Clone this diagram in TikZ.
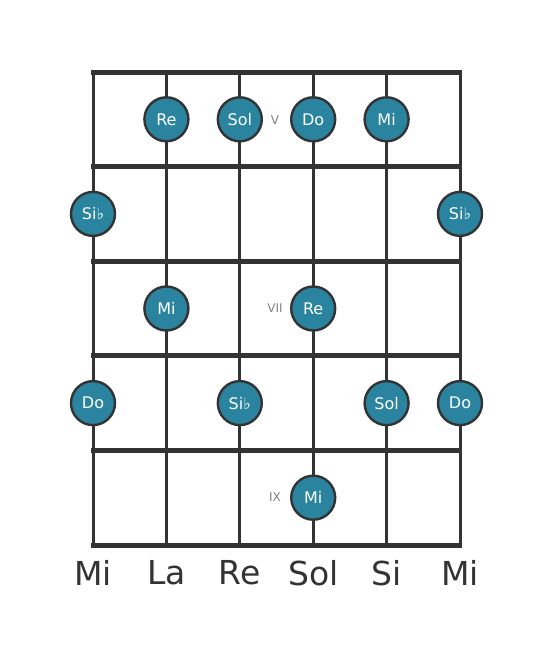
\documentclass[tikz,border=0pt]{standalone}
\usepackage{fontspec}
\setmainfont{DejaVu Sans}
\usetikzlibrary{calc}
\definecolor{cuerda}{HTML}{333333}
\definecolor{nota}{HTML}{2A84A0}
\newcommand{\bemol}{\char"266D}

\begin{document}
\begin{tikzpicture}[x=1pt, y=-1pt,
  nota/.style={circle, draw=cuerda, line width=2.4pt, fill=nota, minimum size=44pt,
    inner sep=0pt, text=white, font=\fontsize{16}{16}\selectfont},
  traste/.style={text=gray, font=\fontsize{12}{12}\selectfont}]
  \useasboundingbox (0,0) rectangle (553,656);

  % Cuerdas
  \foreach \i in {0,...,5}
    \draw[cuerda, line width=3pt] ({93+73.4*\i},72) -- ({93+73.4*\i},545);

  % Trastes
  \foreach \j in {0,...,5}
    \draw[cuerda, line width=5pt] (91,{72+94.6*\j}) -- (462,{72+94.6*\j});

  % Nombres de las cuerdas
  \foreach \n [count=\i from 0] in {Mi,La,Re,Sol,Si,Mi}
    \node[text=cuerda, font=\fontsize{33}{33}\selectfont] (c\i) at ({93+73.4*\i},573) {\n};

  % Trastes V, VII y IX
  \node[traste] (tV) at (275,120) {V};
  \node[traste] (tVII) at (275,308) {VII};
  \node[traste] (tIX) at (275,497) {IX};

  % Notas
  \node[nota] (n1) at (166.4,119.3) {Re};
  \node[nota] (n2) at (239.8,119.3) {Sol};
  \node[nota] (n3) at (313.2,119.3) {Do};
  \node[nota] (n4) at (386.6,119.3) {Mi};
  \node[nota] (n5) at (93,213.9) {Si\bemol};
  \node[nota] (n6) at (460,213.9) {Si\bemol};
  \node[nota] (n7) at (166.4,308.5) {Mi};
  \node[nota] (n8) at (313.2,308.5) {Re};
  \node[nota] (n9) at (93,403.1) {Do};
  \node[nota] (n10) at (239.8,403.1) {Si\bemol};
  \node[nota] (n11) at (386.6,403.1) {Sol};
  \node[nota] (n12) at (460,403.1) {Do};
  \node[nota] (n13) at (313.2,497.7) {Mi};

\end{tikzpicture}
\end{document}
